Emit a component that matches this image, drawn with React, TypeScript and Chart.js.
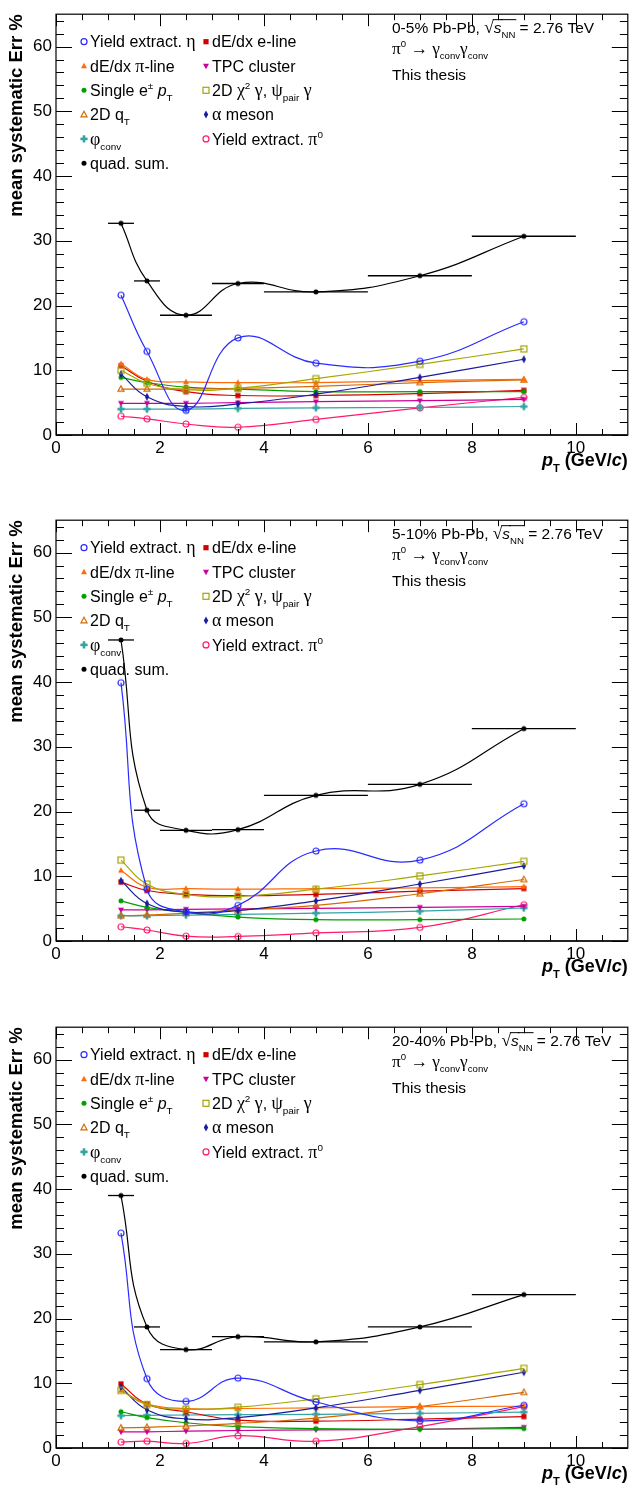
import React, { useEffect, useRef } from 'react';
import { Chart, registerables } from 'chart.js';

Chart.register(...registerables);

// ---------------- data ----------------
const ptCenters = [1.25, 1.75, 2.5, 3.5, 5, 7, 9];
const ptBinLow = [1, 1.5, 2, 3, 4, 6, 8];
const ptBinHigh = [1.5, 2, 3, 4, 6, 8, 10];
const xTickValues = [0, 2, 4, 6, 8, 10];
const yTickValues = [0, 10, 20, 30, 40, 50, 60];
const centralities = ['0-5%', '5-10%', '20-40%'];

// 0-5%
const yieldEta_0_5 = [21.6, 12.9, 3.8, 15.0, 11.1, 11.4, 17.5];
const dEdxE_0_5 = [10.7, 8.3, 6.7, 6.1, 6.1, 6.4, 6.9];
const dEdxPi_0_5 = [11.0, 8.6, 8.2, 8.1, 8.1, 8.4, 8.6];
const tpcCluster_0_5 = [4.9, 4.9, 4.9, 5.0, 5.15, 5.3, 5.5];
const singlePt_0_5 = [8.9, 8.1, 7.4, 7.1, 6.7, 6.7, 6.7];
const chi2Psi_0_5 = [10.0, 8.0, 7.0, 7.2, 8.7, 10.9, 13.3];
const qT_0_5 = [7.1, 7.1, 7.1, 7.2, 7.5, 8.1, 8.5];
const alpha_0_5 = [9.4, 5.9, 4.4, 4.8, 6.3, 8.9, 11.7];
const phiConv_0_5 = [4.0, 4.0, 4.0, 4.1, 4.2, 4.25, 4.4];
const yieldPi0_0_5 = [2.9, 2.5, 1.7, 1.2, 2.4, 4.2, 5.8];
const quadSum_0_5 = [32.7, 23.8, 18.5, 23.4, 22.1, 24.6, 30.7];

// 5-10%
const yieldEta_5_10 = [39.9, 8.0, 4.5, 5.5, 13.9, 12.5, 21.2];
const dEdxE_5_10 = [9.1, 7.8, 7.2, 7.0, 7.2, 7.7, 8.1];
const dEdxPi_5_10 = [10.9, 8.3, 8.1, 8.0, 8.1, 8.2, 8.4];
const tpcCluster_5_10 = [4.8, 4.8, 4.9, 4.95, 5.05, 5.2, 5.35];
const singlePt_5_10 = [6.2, 5.2, 4.4, 3.7, 3.3, 3.3, 3.4];
const chi2Psi_5_10 = [12.5, 8.8, 7.2, 6.9, 8.0, 10.05, 12.3];
const qT_5_10 = [3.9, 4.0, 4.3, 4.8, 5.5, 7.3, 9.5];
const alpha_5_10 = [9.3, 5.8, 4.5, 4.7, 6.2, 8.8, 11.6];
const phiConv_5_10 = [3.9, 3.9, 4.0, 4.1, 4.3, 4.6, 5.1];
const yieldPi0_5_10 = [2.2, 1.7, 0.75, 0.7, 1.25, 2.1, 5.6];
const quadSum_5_10 = [46.5, 20.2, 17.1, 17.2, 22.5, 24.2, 32.8];

// 20-40%
const yieldEta_20_40 = [33.2, 10.7, 7.2, 10.8, 7.1, 4.2, 6.6];
const dEdxE_20_40 = [9.9, 6.8, 5.6, 4.3, 4.15, 4.45, 4.85];
const dEdxPi_20_40 = [8.9, 6.8, 6.1, 6.1, 6.2, 6.4, 6.45];
const tpcCluster_20_40 = [2.5, 2.5, 2.6, 2.7, 2.8, 2.9, 3.2];
const singlePt_20_40 = [5.6, 4.7, 3.9, 3.3, 3.0, 2.9, 3.0];
const chi2Psi_20_40 = [8.9, 6.7, 6.0, 6.3, 7.6, 9.8, 12.3];
const qT_20_40 = [3.1, 3.2, 3.4, 3.8, 4.6, 6.4, 8.6];
const alpha_20_40 = [9.4, 5.9, 4.5, 4.7, 6.2, 8.9, 11.7];
const phiConv_20_40 = [5.0, 5.05, 5.1, 5.15, 5.2, 5.35, 5.55];
const yieldPi0_20_40 = [0.9, 1.05, 0.7, 1.9, 1.05, 3.3, 6.4];
const quadSum_20_40 = [39.0, 18.7, 15.2, 17.2, 16.4, 18.7, 23.7];

// ---------------- styles ----------------
type Seg = { t: string; sub?: boolean; sup?: boolean; it?: boolean; greek?: boolean; over?: boolean };

const SANS = '"Liberation Sans", Arial, Helvetica, sans-serif';
const SERIF = '"Liberation Serif", "DejaVu Serif", serif';

const seriesDefs = [
  { key: 'quad', color: '#000000', marker: 'fullCircle', values: [quadSum_0_5, quadSum_5_10, quadSum_20_40],
    label: [{ t: 'quad. sum.' }] as Seg[] },
  { key: 'eta', color: '#2a2aff', marker: 'openCircle', values: [yieldEta_0_5, yieldEta_5_10, yieldEta_20_40],
    label: [{ t: 'Yield extract. ' }, { t: 'η', greek: true }] as Seg[] },
  { key: 'chi2', color: '#a5a500', marker: 'openSquare', values: [chi2Psi_0_5, chi2Psi_5_10, chi2Psi_20_40],
    label: [{ t: '2D ' }, { t: 'χ', greek: true }, { t: '2', sup: true }, { t: ' ' }, { t: 'γ', greek: true }, { t: ', ' }, { t: 'ψ', greek: true }, { t: 'pair', sub: true }, { t: ' ' }, { t: 'γ', greek: true }] as Seg[] },
  { key: 'alpha', color: '#1c1c9c', marker: 'fullDiamond', values: [alpha_0_5, alpha_5_10, alpha_20_40],
    label: [{ t: 'α', greek: true }, { t: ' meson' }] as Seg[] },
  { key: 'pi', color: '#ff6a0a', marker: 'fullTriUp', values: [dEdxPi_0_5, dEdxPi_5_10, dEdxPi_20_40],
    label: [{ t: 'dE/dx ' }, { t: 'π', greek: true }, { t: '-line' }] as Seg[] },
  { key: 'qt', color: '#d46a00', marker: 'openTriUp', values: [qT_0_5, qT_5_10, qT_20_40],
    label: [{ t: '2D q' }, { t: 'T', sub: true }] as Seg[] },
  { key: 'single', color: '#00a000', marker: 'fullCircle', values: [singlePt_0_5, singlePt_5_10, singlePt_20_40],
    label: [{ t: 'Single e' }, { t: '±', sup: true }, { t: ' ' }, { t: 'p', it: true }, { t: 'T', sub: true }] as Seg[] },
  { key: 'e', color: '#d40000', marker: 'fullSquare', values: [dEdxE_0_5, dEdxE_5_10, dEdxE_20_40],
    label: [{ t: 'dE/dx e-line' }] as Seg[] },
  { key: 'tpc', color: '#cc0099', marker: 'fullTriDown', values: [tpcCluster_0_5, tpcCluster_5_10, tpcCluster_20_40],
    label: [{ t: 'TPC cluster' }] as Seg[] },
  { key: 'phi', color: '#33a3a3', marker: 'fullCross', values: [phiConv_0_5, phiConv_5_10, phiConv_20_40],
    label: [{ t: 'φ', greek: true }, { t: 'conv', sub: true }] as Seg[] },
  { key: 'pi0', color: '#ff1a6e', marker: 'openCircle', values: [yieldPi0_0_5, yieldPi0_5_10, yieldPi0_20_40],
    label: [{ t: 'Yield extract. ' }, { t: 'π', greek: true }, { t: '0', sup: true }] as Seg[] },
];

const legendCol1 = ['eta', 'pi', 'single', 'qt', 'phi', 'quad'];
const legendCol2 = ['e', 'tpc', 'chi2', 'alpha', 'pi0'];

const panelTops = [0, 506, 1013];
const CANVAS_W = 632;
const CANVAS_H = 487;

// ---------------- drawing helpers ----------------
function drawMarker(g: CanvasRenderingContext2D, kind: string, color: string, x: number, y: number) {
  g.save();
  g.fillStyle = color;
  g.strokeStyle = color;
  g.lineWidth = 1.2;
  g.beginPath();
  switch (kind) {
    case 'openCircle':
      g.arc(x, y, 3, 0, Math.PI * 2);
      g.stroke();
      break;
    case 'fullCircle':
      g.arc(x, y, 2.5, 0, Math.PI * 2);
      g.fill();
      break;
    case 'fullSquare':
      g.fillRect(x - 2.6, y - 2.6, 5.2, 5.2);
      break;
    case 'openSquare':
      g.strokeRect(x - 3, y - 3, 6, 6);
      break;
    case 'fullTriUp':
      g.moveTo(x, y - 3.3); g.lineTo(x + 3, y + 2.2); g.lineTo(x - 3, y + 2.2); g.closePath(); g.fill();
      break;
    case 'openTriUp':
      g.moveTo(x, y - 3.3); g.lineTo(x + 3, y + 2.2); g.lineTo(x - 3, y + 2.2); g.closePath(); g.stroke();
      break;
    case 'fullTriDown':
      g.moveTo(x, y + 3.3); g.lineTo(x + 3, y - 2.2); g.lineTo(x - 3, y - 2.2); g.closePath(); g.fill();
      break;
    case 'fullDiamond':
      g.moveTo(x, y - 4); g.lineTo(x + 2.2, y); g.lineTo(x, y + 4); g.lineTo(x - 2.2, y); g.closePath(); g.fill();
      break;
    case 'fullCross':
      g.fillRect(x - 1.3, y - 3.6, 2.6, 7.2);
      g.fillRect(x - 3.6, y - 1.3, 7.2, 2.6);
      break;
  }
  g.restore();
}

const markerCache: Record<string, HTMLCanvasElement> = {};
function markerImage(kind: string, color: string) {
  const k = kind + color;
  if (!markerCache[k]) {
    const c = document.createElement('canvas');
    c.width = 12; c.height = 12;
    const g = c.getContext('2d')!;
    drawMarker(g, kind, color, 6, 6);
    markerCache[k] = c;
  }
  return markerCache[k];
}

function segFont(s: Seg, size: number, bold: boolean) {
  let sz = s.sub || s.sup ? size * 0.62 : size;
  if (s.greek) sz *= 1.12;
  return `${s.it ? 'italic ' : ''}${bold ? 'bold ' : ''}${sz}px ${s.greek ? SERIF : SANS}`;
}

function richWidth(ctx: CanvasRenderingContext2D, segs: Seg[], size: number, bold: boolean) {
  let w = 0;
  for (const s of segs) { ctx.font = segFont(s, size, bold); w += ctx.measureText(s.t).width; }
  return w;
}

function drawRich(ctx: CanvasRenderingContext2D, segs: Seg[], x: number, y: number, size: number, bold = false, align: 'left' | 'right' = 'left') {
  ctx.save();
  ctx.textAlign = 'left';
  ctx.textBaseline = 'alphabetic';
  ctx.fillStyle = '#000';
  let cx = align === 'right' ? x - richWidth(ctx, segs, size, bold) : x;
  for (const s of segs) {
    ctx.font = segFont(s, size, bold);
    const dy = s.sub ? size * 0.32 : s.sup ? -size * 0.42 : 0;
    ctx.fillText(s.t, cx, y + dy);
    const sw = ctx.measureText(s.t).width;
    if (s.over) {
      ctx.strokeStyle = '#000'; ctx.lineWidth = 1;
      ctx.beginPath(); ctx.moveTo(cx - 1, y - size * 0.86); ctx.lineTo(cx + sw + 1, y - size * 0.86); ctx.stroke();
    }
    cx += sw;
  }
  ctx.restore();
}

const rootStylePlugin = {
  id: 'rootStyle',
  afterDatasetsDraw(chart: any, _args: any, opts: any) {
    const { ctx, scales: { x, y } } = chart;
    const idx = opts.idx as number;
    const quad = seriesDefs[0].values[idx];
    ctx.save();
    ctx.strokeStyle = '#000';
    ctx.lineWidth = 1.3;
    quad.forEach((v: number, i: number) => {
      const py = y.getPixelForValue(v);
      ctx.beginPath();
      ctx.moveTo(x.getPixelForValue(ptBinLow[i]), py);
      ctx.lineTo(x.getPixelForValue(ptBinHigh[i]), py);
      ctx.stroke();
    });
    ctx.restore();
  },
  afterDraw(chart: any, _args: any, opts: any) {
    const { ctx, chartArea: a, scales: { x, y } } = chart;
    const idx = opts.idx as number;
    ctx.save();
    // frame
    ctx.strokeStyle = '#000';
    ctx.lineWidth = 1.2;
    ctx.strokeRect(a.left, a.top, a.right - a.left, a.bottom - a.top);
    ctx.lineWidth = 2;
    ctx.strokeStyle = '#222';
    ctx.beginPath(); ctx.moveTo(a.left, a.bottom); ctx.lineTo(a.right, a.bottom); ctx.stroke();
    ctx.strokeStyle = '#000';
    ctx.lineWidth = 1;
    // x ticks
    for (let k = 0; k <= 22; k++) {
      const v = k * 0.5;
      const px = Math.round(x.getPixelForValue(v)) + 0.5;
      if (px > a.right - 1) continue;
      const len = k % 4 === 0 ? 12 : 6;
      ctx.beginPath();
      ctx.moveTo(px, a.bottom); ctx.lineTo(px, a.bottom - len);
      ctx.moveTo(px, a.top); ctx.lineTo(px, a.top + len);
      ctx.stroke();
    }
    // y ticks
    for (let k = 0; k <= 32; k++) {
      const v = k * 2;
      const py = Math.round(y.getPixelForValue(v)) + 0.5;
      const len = k % 5 === 0 ? 16 : 8;
      ctx.beginPath();
      ctx.moveTo(a.left, py); ctx.lineTo(a.left + len, py);
      ctx.moveTo(a.right, py); ctx.lineTo(a.right - len, py);
      ctx.stroke();
    }
    // y title
    ctx.save();
    ctx.translate(17, a.top);
    ctx.rotate(-Math.PI / 2);
    ctx.font = `bold 18.5px ${SANS}`;
    ctx.textAlign = 'right';
    ctx.textBaseline = 'middle';
    ctx.fillStyle = '#000';
    ctx.fillText('mean systematic Err %', 0, 0);
    ctx.restore();
    // x title
    drawRich(ctx, [{ t: 'p', it: true }, { t: 'T', sub: true }, { t: ' (GeV/' }, { t: 'c', it: true }, { t: ')' }], a.right, 466, 18, true, 'right');

    // legend
    const rowY = (i: number) => a.top + 27.5 + i * 24.3;
    const lsize = 16;
    legendCol1.forEach((key, i) => {
      const s = seriesDefs.find((d) => d.key === key)!;
      drawMarker(ctx, s.marker, s.color, 84, rowY(i));
      drawRich(ctx, s.label, 90, rowY(i) + lsize * 0.36, lsize);
    });
    legendCol2.forEach((key, i) => {
      const s = seriesDefs.find((d) => d.key === key)!;
      drawMarker(ctx, s.marker, s.color, 206, rowY(i));
      drawRich(ctx, s.label, 212, rowY(i) + lsize * 0.36, lsize);
    });

    // header text
    const hs = 15.5;
    drawRich(ctx, [
      { t: `${centralities[idx]} Pb-Pb, ` },
      { t: '√', greek: true },
      { t: 's', it: true, over: true },
      { t: 'NN', sub: true, over: true },
      { t: ' = 2.76 TeV' },
    ], 392, 33, hs);
    drawRich(ctx, [
      { t: 'π', greek: true }, { t: '0', sup: true }, { t: ' → ', greek: true },
      { t: 'γ', greek: true }, { t: 'conv', sub: true }, { t: 'γ', greek: true }, { t: 'conv', sub: true },
    ], 392, 54, hs);
    drawRich(ctx, [{ t: 'This thesis' }], 392, 80, hs);
    ctx.restore();
  },
};

function Panel({ idx, top }: { idx: number; top: number }) {
  const ref = useRef<HTMLCanvasElement>(null);
  useEffect(() => {
    if (!ref.current) return;
    const datasets = seriesDefs.map((s) => ({
      label: s.key,
      data: ptCenters.map((px, i) => ({ x: px, y: s.values[idx][i] })),
      borderColor: s.color,
      backgroundColor: s.color,
      borderWidth: 1.2,
      pointStyle: markerImage(s.marker, s.color) as any,
      pointRadius: 3,
      pointHoverRadius: 3,
      showLine: true,
      tension: 0.45,
      fill: false,
    }));
    const tickFont = { family: SANS, size: 17 };
    const chart = new Chart(ref.current, {
      type: 'scatter',
      data: { datasets },
      plugins: [rootStylePlugin],
      options: {
        animation: false,
        responsive: false,
        events: [],
        layout: { padding: { top: 7, right: 2, left: 0, bottom: 0 } },
        plugins: {
          legend: { display: false },
          tooltip: { enabled: false },
          rootStyle: { idx },
        } as any,
        scales: {
          x: {
            type: 'linear',
            min: 0,
            max: 11,
            grid: { display: false, drawTicks: false },
            border: { display: false },
            ticks: { font: tickFont, color: '#000', padding: 3, autoSkip: false, maxRotation: 0 },
            afterBuildTicks: (scale: any) => { scale.ticks = xTickValues.map((v) => ({ value: v })); },
            afterFit: (scale: any) => { scale.height = 52; },
          },
          y: {
            type: 'linear',
            min: 0,
            max: 65,
            grid: { display: false, drawTicks: false },
            border: { display: false },
            ticks: { font: tickFont, color: '#000', padding: 4, autoSkip: false },
            afterBuildTicks: (scale: any) => { scale.ticks = yTickValues.map((v) => ({ value: v })); },
            afterFit: (scale: any) => { scale.width = 56; },
          },
        },
      } as any,
    });
    return () => chart.destroy();
  }, [idx]);
  return (
    <canvas
      ref={ref}
      width={CANVAS_W}
      height={CANVAS_H}
      style={{ position: 'absolute', left: 0, top, display: 'block' }}
    />
  );
}

export default function App() {
  return (
    <div style={{ position: 'absolute', left: 0, top: 0, width: 632, height: 1493, overflow: 'hidden', background: '#fff' }}>
      {centralities.map((c, i) => (
        <Panel key={c} idx={i} top={panelTops[i]} />
      ))}
    </div>
  );
}
